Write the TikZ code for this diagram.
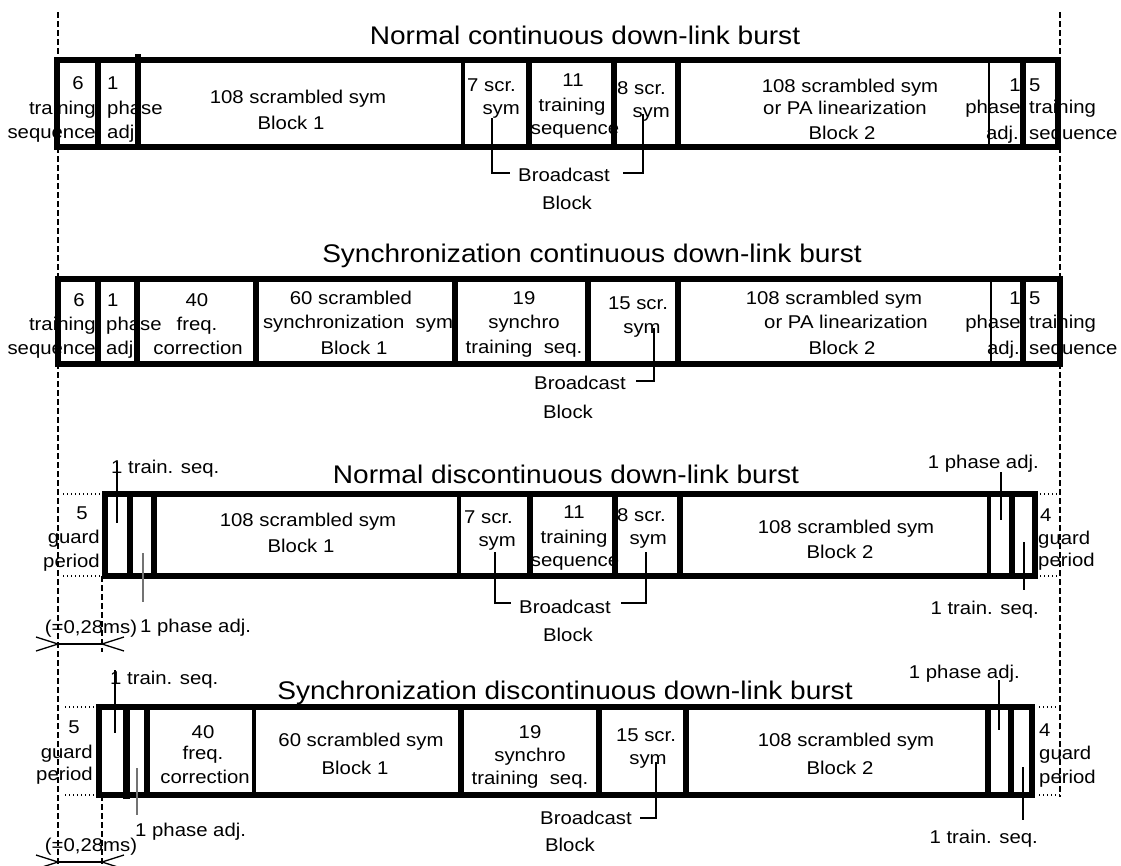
\documentclass[tikz,border=0pt]{standalone}
\usepackage{fontspec}
\setmainfont[FakeStretch=1.1]{Liberation Sans}
\begin{document}
\begin{tikzpicture}[x=1pt,y=-1pt,
 tx/.style={font=\fontsize{18.5}{22}\selectfont, inner sep=0pt, text height=13pt, text depth=0pt},
 ttl/.style={font=\fontsize{25.5}{30}\selectfont, inner sep=0pt, text height=18pt, text depth=0pt},
 frm/.style={line width=5.5pt},
 thk/.style={line width=5.5pt},
 med/.style={line width=3.5pt},
 thn/.style={line width=2pt},
 dsh/.style={line width=1.3pt, dash pattern=on 6pt off 3pt},
 dotl/.style={line width=1.3pt, dash pattern=on 1.3pt off 2.7pt},
 lead/.style={line width=1.3pt},
 leadg/.style={line width=1.3pt, black!55}]
\useasboundingbox (0,0) rectangle (1121,865);
\clip (0,0) rectangle (1121,865);
\fill[white] (0,0) rectangle (1121,865);

% ================= Burst 1 =================
\node[ttl] (t1) at (585,35) {Normal continuous down-link burst};
\node[tx] (a1) at (78,83) {6};
\node[tx,anchor=east] (a2) at (96,108) {training};
\node[tx,anchor=east] (a3) at (96,132) {sequence};
\node[tx,anchor=west] (b1) at (107,83) {1};
\node[tx,anchor=west] (b2) at (107,108) {phase};
\node[tx,anchor=west] (b3) at (107,132) {adj.};
\node[tx] (c1) at (298,97) {108 scrambled sym};
\node[tx] (c2) at (291,123) {Block 1};
\node[tx,anchor=west] (d1) at (467,85) {7 scr.};
\node[tx,anchor=east] (d2) at (520,108) {sym};
\node[tx] (e1) at (573,80) {11};
\node[tx] (e2) at (572,105) {training};
\node[tx] (e3) at (575,128) {sequence};
\node[tx,anchor=west] (f1) at (617,88) {8 scr.};
\node[tx,anchor=east] (f2) at (670,111) {sym};
\node[tx] (g1) at (850,86) {108 scrambled sym};
\node[tx] (g2) at (845,108) {or PA linearization};
\node[tx] (g3) at (842,133) {Block 2};
\node[tx,anchor=east] (h1) at (1021,85) {1};
\node[tx,anchor=east] (h2) at (1021,107) {phase};
\node[tx,anchor=east] (h3) at (1019,133) {adj.};
\node[tx,anchor=west] (i1) at (1029,85) {5};
\node[tx,anchor=west] (i2) at (1029,107) {training};
\node[tx,anchor=west] (i3) at (1029,133) {sequence};
\node[tx] (bc1) at (564,175) {Broadcast};
\node[tx] (bk1) at (567,203) {Block};
\draw[frm] (57,60) rectangle (1058,147);
\draw[thk] (98,60) -- (98,147);
\draw[thk] (138,54) -- (138,150);
\draw[med] (463,60) -- (463,147);
\draw[thk] (529,60) -- (529,147);
\draw[thk] (614,60) -- (614,147);
\draw[thk] (678,60) -- (678,147);
\draw[thn] (989,60) -- (989,147);
\draw[thk] (1023,60) -- (1023,147);
\coordinate (p1a) at (492,118);
\coordinate (p1b) at (510,173);
\coordinate (p1c) at (623,173);
\coordinate (p1d) at (643,114);
\draw[lead] (p1a) |- (p1b);
\draw[lead] (p1c) -| (p1d);

% ================= Burst 2 =================
\node[ttl] (t2) at (592,253) {Synchronization continuous down-link burst};
\node[tx] (a21) at (79,300) {6};
\node[tx,anchor=east] (a22) at (96,324) {training};
\node[tx,anchor=east] (a23) at (96,348) {sequence};
\node[tx,anchor=west] (b21) at (107,300) {1};
\node[tx,anchor=west] (b22) at (106,324) {phase};
\node[tx,anchor=west] (b23) at (106,348) {adj.};
\node[tx] (c21) at (197,300) {40};
\node[tx] (c22) at (197,324) {freq.};
\node[tx] (c23) at (198,348) {correction};
\node[tx] (d21) at (351,298) {60 scrambled};
\node[tx] (d22) at (358,322) {synchronization\ \ sym};
\node[tx] (d23) at (354,348) {Block 1};
\node[tx] (e21) at (524,298) {19};
\node[tx] (e22) at (524,322) {synchro};
\node[tx] (e23) at (524,347) {training\ \ seq.};
\node[tx] (f21) at (638,303) {15 scr.};
\node[tx] (f22) at (642,327) {sym};
\node[tx] (g21) at (834,298) {108 scrambled sym};
\node[tx] (g22) at (846,322) {or PA linearization};
\node[tx] (g23) at (842,348) {Block 2};
\node[tx,anchor=east] (h21) at (1021,298) {1};
\node[tx,anchor=east] (h22) at (1021,322) {phase};
\node[tx,anchor=east] (h23) at (1020,348) {adj.};
\node[tx,anchor=west] (i21) at (1029,298) {5};
\node[tx,anchor=west] (i22) at (1029,322) {training};
\node[tx,anchor=west] (i23) at (1029,348) {sequence};
\node[tx] (bc2) at (580,383) {Broadcast};
\node[tx] (bk2) at (568,412) {Block};
\draw[frm] (58,279) rectangle (1060,364);
\draw[thk] (98,279) -- (98,364);
\draw[thk] (137,279) -- (137,364);
\draw[thk] (256,279) -- (256,364);
\draw[thk] (455,279) -- (455,364);
\draw[thk] (588,279) -- (588,364);
\draw[thk] (678,279) -- (678,364);
\draw[thn] (991,279) -- (991,364);
\draw[thk] (1023,279) -- (1023,364);
\coordinate (p2a) at (654,328);
\coordinate (p2b) at (636,381);
\draw[lead] (p2a) |- (p2b);

% ================= Burst 3 =================
\node[ttl] (t3) at (566,474) {Normal discontinuous down-link burst};
\node[tx,anchor=west] (ts3) at (111,467) {1 train. seq.};
\node[tx] (g31) at (82,513) {5};
\node[tx,anchor=east] (g32) at (100,537) {guard};
\node[tx,anchor=east] (g33) at (100,561) {period};
\node[tx] (c31) at (308,520) {108 scrambled sym};
\node[tx] (c32) at (301,546) {Block 1};
\node[tx,anchor=west] (d31) at (464,517) {7 scr.};
\node[tx,anchor=east] (d32) at (516,540) {sym};
\node[tx] (e31) at (574,512) {11};
\node[tx] (e32) at (574,537) {training};
\node[tx] (e33) at (575,560) {sequence};
\node[tx,anchor=west] (f31) at (617,515) {8 scr.};
\node[tx,anchor=east] (f32) at (667,538) {sym};
\node[tx] (g34) at (846,527) {108 scrambled sym};
\node[tx] (g35) at (840,552) {Block 2};
\node[tx,anchor=east] (pa3) at (1039,462) {1 phase adj.};
\node[tx,anchor=east] (tr3) at (1039,608) {1 train. seq.};
\node[tx,anchor=west] (r31) at (1040,515) {4};
\node[tx,anchor=west] (r32) at (1038,538) {guard};
\node[tx,anchor=west] (r33) at (1038,560) {period};
\node[tx] (bc3) at (565,607) {Broadcast};
\node[tx] (bk3) at (568,635) {Block};
\node[tx,anchor=west] (pl3) at (140,626) {1 phase adj.};
\node[tx] (ms3) at (91,627) {(=0,28ms)};
\draw[frm] (105,494) rectangle (1035,576);
\draw[thk] (130,494) -- (130,576);
\draw[thk] (154,494) -- (154,576);
\draw[med] (459,494) -- (459,576);
\draw[thk] (530,494) -- (530,576);
\draw[thk] (615,494) -- (615,576);
\draw[thk] (680,494) -- (680,576);
\draw[med] (989,494) -- (989,576);
\draw[thk] (1012,494) -- (1012,576);
\draw[dotl] (63,494) -- (100,494);
\draw[dotl] (63,576) -- (100,576);
\draw[dotl] (1040,494) -- (1060,494);
\draw[dotl] (1040,576) -- (1060,576);
\coordinate (q3a) at (117,462);
\coordinate (q3b) at (117,523);
\draw[lead] (q3a) -- (q3b);
\coordinate (q3c) at (143,553);
\coordinate (q3d) at (143,602);
\draw[leadg] (q3c) -- (q3d);
\coordinate (q3e) at (1001,472);
\coordinate (q3f) at (1001,520);
\draw[lead] (q3e) -- (q3f);
\coordinate (q3g) at (1024,542);
\coordinate (q3h) at (1024,590);
\draw[lead] (q3g) -- (q3h);
\coordinate (p3a) at (495,552);
\coordinate (p3b) at (511,603);
\coordinate (p3c) at (621,603);
\coordinate (p3d) at (646,552);
\draw[lead] (p3a) |- (p3b);
\draw[lead] (p3c) -| (p3d);
% dimension
\coordinate (m3l) at (58,644);
\coordinate (m3r) at (102,644);
\draw[lead] (m3l) -- (m3r);
\draw[lead] (36,637) -- (m3l) -- (36,651);
\draw[lead] (124,637) -- (m3r) -- (124,651);

% ================= Burst 4 =================
\node[ttl] (t4) at (565,690) {Synchronization discontinuous down-link burst};
\node[tx,anchor=west] (ts4) at (110,678) {1 train. seq.};
\node[tx] (g41) at (74,727) {5};
\node[tx,anchor=east] (g42) at (93,752) {guard};
\node[tx,anchor=east] (g43) at (93,774) {period};
\node[tx] (c41) at (203,732) {40};
\node[tx] (c42) at (203,753) {freq.};
\node[tx] (c43) at (205,777) {correction};
\node[tx] (d41) at (361,740) {60 scrambled sym};
\node[tx] (d42) at (355,768) {Block 1};
\node[tx] (e41) at (530,732) {19};
\node[tx] (e42) at (530,755) {synchro};
\node[tx] (e43) at (530,778) {training\ \ seq.};
\node[tx] (f41) at (646,735) {15 scr.};
\node[tx] (f42) at (648,758) {sym};
\node[tx] (g44) at (846,740) {108 scrambled sym};
\node[tx] (g45) at (840,768) {Block 2};
\node[tx,anchor=east] (pa4) at (1020,672) {1 phase adj.};
\node[tx,anchor=east] (tr4) at (1038,837) {1 train. seq.};
\node[tx,anchor=west] (r41) at (1039,730) {4};
\node[tx,anchor=west] (r42) at (1039,753) {guard};
\node[tx,anchor=west] (r43) at (1039,777) {period};
\node[tx] (bc4) at (586,818) {Broadcast};
\node[tx] (bk4) at (570,845) {Block};
\node[tx,anchor=west] (pl4) at (135,830) {1 phase adj.};
\node[tx] (ms4) at (91,845) {(=0,28ms)};
\draw[frm] (99,707) rectangle (1032,795);
\draw[line width=7pt] (126,707) -- (126,799);
\draw[thk] (147,707) -- (147,795);
\draw[med] (254,707) -- (254,795);
\draw[thk] (461,707) -- (461,795);
\draw[thk] (599,707) -- (599,795);
\draw[thk] (686,707) -- (686,795);
\draw[thk] (988,707) -- (988,795);
\draw[thk] (1011,707) -- (1011,795);
\draw[dotl] (65,707) -- (95,707);
\draw[dotl] (65,795) -- (97,795);
\draw[dotl] (1039,707) -- (1060,707);
\draw[dotl] (1039,795) -- (1060,795);
\coordinate (q4a) at (115,670);
\coordinate (q4b) at (115,733);
\draw[lead] (q4a) -- (q4b);
\coordinate (q4c) at (137,768);
\coordinate (q4d) at (137,815);
\draw[leadg] (q4c) -- (q4d);
\coordinate (q4e) at (999,680);
\coordinate (q4f) at (999,730);
\draw[lead] (q4e) -- (q4f);
\coordinate (q4g) at (1023,767);
\coordinate (q4h) at (1023,820);
\draw[lead] (q4g) -- (q4h);
\coordinate (p4a) at (656,762);
\coordinate (p4b) at (640,818);
\draw[lead] (p4a) |- (p4b);
\coordinate (m4l) at (58,862);
\coordinate (m4r) at (102,862);
\draw[lead] (m4l) -- (m4r);
\draw[lead] (36,855) -- (m4l) -- (36,869);
\draw[lead] (124,855) -- (m4r) -- (124,869);

% ================= guides =================
\draw[dsh] (58,12) -- (58,865);
\draw[dsh] (1060,12) -- (1060,797);
\draw[dsh] (102,576) -- (102,652);
\draw[dsh] (102,795) -- (102,865);
\end{tikzpicture}
\end{document}
